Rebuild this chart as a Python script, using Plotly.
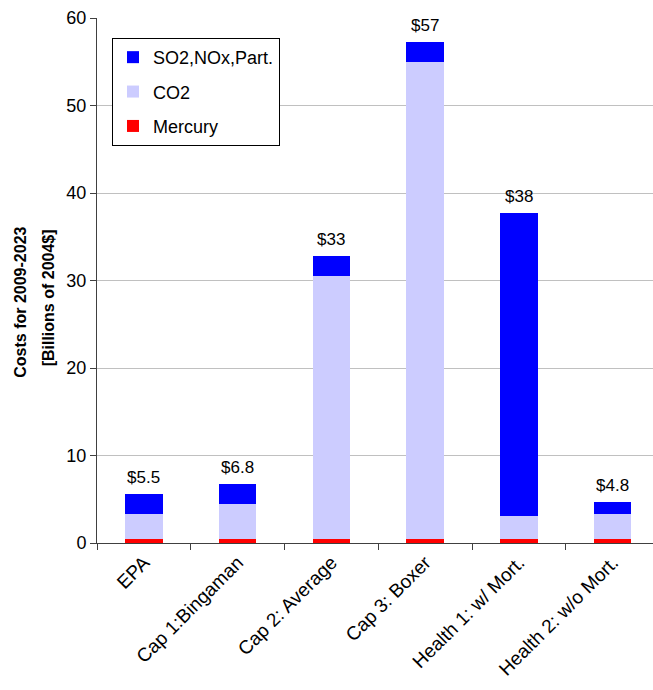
import plotly.graph_objects as go

categories = ["EPA", "Cap 1:Bingaman", "Cap 2: Average", "Cap 3: Boxer",
              "Health 1: w/ Mort.", "Health 2: w/o Mort."]
mercury = [0.5, 0.5, 0.5, 0.5, 0.5, 0.5]
co2 = [2.77, 3.91, 30.0, 54.45, 2.62, 2.77]
so2 = [2.28, 2.3, 2.3, 2.3, 34.6, 1.45]
total_labels = ["$5.5", "$6.8", "$33", "$57", "$38", "$4.8"]
title_lines = ["Costs for 2009-2023", "[Billions of 2004$]"]

FONT = "Liberation Sans, Arial, sans-serif"

fig = go.Figure()
fig.add_trace(go.Bar(x=categories, y=mercury, name="Mercury",
                     marker=dict(color="#FF0000", line=dict(width=0)),
                     legendgroup="c", legendrank=3))
fig.add_trace(go.Bar(x=categories, y=co2, name="CO2",
                     marker=dict(color="#CCCCFF", line=dict(width=0)),
                     legendgroup="b", legendrank=2))
fig.add_trace(go.Bar(x=categories, y=so2, name="SO2,NOx,Part.",
                     marker=dict(color="#0000FF", line=dict(width=0)),
                     legendgroup="a", legendrank=1))

totals = [m + c + s for m, c, s in zip(mercury, co2, so2)]
for cat, tot, lab in zip(categories, totals, total_labels):
    fig.add_annotation(x=cat, y=tot, text=lab, showarrow=False,
                       yanchor="bottom", yshift=5,
                       font=dict(family=FONT, size=17, color="black"))

for xp, yp, line in zip([-0.1367, -0.0881], [0.4595, 0.466], title_lines):
    fig.add_annotation(xref="paper", yref="paper", x=xp, y=yp,
                       text="<b>" + line + "</b>",
                       textangle=-90, showarrow=False, xanchor="center", yanchor="middle",
                       font=dict(family=FONT, size=16, color="black"))

fig.update_layout(
    width=653, height=690,
    margin=dict(l=97, r=0, t=18, b=147),
    barmode="stack", bargap=0.6,
    plot_bgcolor="white", paper_bgcolor="white",
    font=dict(family=FONT, size=16, color="black"),
    showlegend=True,
    legend=dict(x=0.027, y=0.962, xanchor="left", yanchor="top",
                bordercolor="black", borderwidth=1, bgcolor="white",
                font=dict(family=FONT, size=18, color="black"),
                traceorder="grouped", tracegroupgap=8),
    xaxis=dict(range=[-0.5, 5.43], showline=True, linecolor="#404040", linewidth=1,
               ticks="outside", ticklen=6, tickcolor="#404040", tickson="boundaries",
               tickangle=-45, showgrid=False,
               tickfont=dict(family=FONT, size=19, color="black")),
    yaxis=dict(range=[0, 60], dtick=10, showline=True, linecolor="#404040", linewidth=1,
               ticks="outside", ticklen=6, tickcolor="#404040",
               showgrid=True, gridcolor="#C0C0C0", gridwidth=1, zeroline=False,
               tickfont=dict(family=FONT, size=18, color="black")),
)

fig.write_html("out.html")
